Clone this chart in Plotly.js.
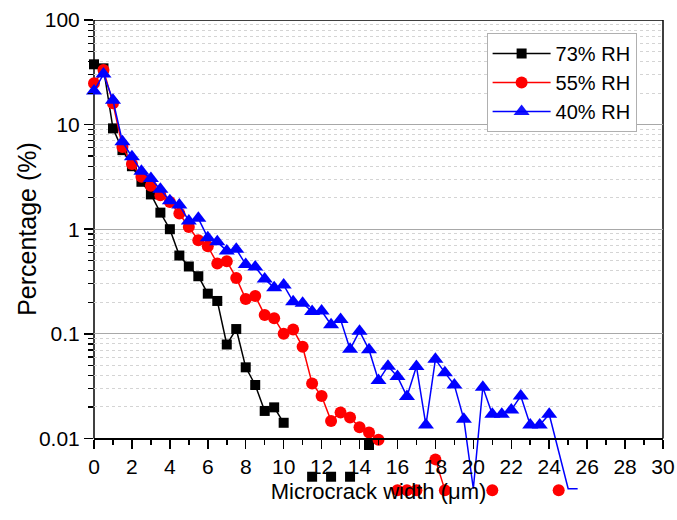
<!DOCTYPE html>
<html><head><meta charset="utf-8">
<script src="https://cdn.plot.ly/plotly-3.0.1.min.js"></script>
<style>html,body{margin:0;padding:0;background:#fff}</style>
</head><body><div id="chart" style="width:677px;height:520px"></div>
<script>
// Microcrack width (µm)
const widths = [0,0.5,1,1.5,2,2.5,3,3.5,4,4.5,5,5.5,6,6.5,7,7.5,8,8.5,9,9.5,10,10.5,11,11.5,12,12.5,13,13.5,14,14.5,15,15.5,16,16.5,17,17.5,18,18.5,19,19.5,20,20.5,21,21.5,22,22.5,23,23.5,24,24.5,25,25.5];
// Percentage (%) per series
const rh73 = [37.7,34.5,9.2,5.7,4.0,2.84,2.15,1.44,1.0,0.56,0.44,0.355,0.242,0.206,0.079,0.111,0.0478,0.0324,0.0183,0.0198,0.0141,null,null,0.0043,null,0.0043,null,0.0043,null,0.00865,null,null,null,null,null,null,null,null,null,null,null,null,null,null,null,null,null,null,null,null,null,null];
const rh55 = [24.8,33.3,16,6.1,4.19,3.17,2.6,2.11,1.82,1.41,1.05,0.785,0.688,0.47,0.494,0.342,0.215,0.23,0.151,0.141,0.1,0.11,0.075,0.0335,0.0254,0.0147,0.0177,0.0158,0.0128,0.0114,0.0097,null,0.0032,0.0032,0.0032,null,0.0063,0.0032,null,null,null,null,0.0032,null,null,null,null,null,null,0.0032,null,null];
const rh40 = [20.9,30.4,17.1,6.86,4.92,3.59,3.05,2.41,1.87,1.70,1.2,1.27,0.83,0.757,0.62,0.644,0.46,0.435,0.335,0.275,0.292,0.203,0.196,0.163,0.165,0.122,0.137,0.071,0.106,0.0705,0.0357,0.049,0.039,0.0252,0.0487,0.0134,0.057,0.0425,0.0324,0.0152,0.0033,0.0308,0.017,0.017,0.0187,0.0254,0.0134,0.0134,0.017,0.0075,0.0033,0.0033];
const seriesNames = ['73% RH','55% RH','40% RH'];
const xTickVals = [0,2,4,6,8,10,12,14,16,18,20,22,24,26,28,30];
const yTickVals = [0.01,0.1,1,10,100];
const yTickText = ['0.01','0.1','1','10','100'];

const FONT = 'Liberation Sans, Arial, sans-serif';
const yMin = -2.589, yMax = 2;
const yBottom = yTickVals[0], yTop = yTickVals[yTickVals.length - 1];
const minorVals = [];
[0.01,0.1,1,10].forEach(d => { for (let k = 2; k <= 9; k++) minorVals.push(+(d*k).toPrecision(3)); });

const traces = [
  {x: widths, y: rh73, name: seriesNames[0], type: 'scatter', mode: 'lines+markers',
   line: {color: '#000000', width: 1.5}, marker: {symbol: 'square', size: 10, color: '#000000'},
   connectgaps: false, cliponaxis: false},
  {x: widths, y: rh55, name: seriesNames[1], type: 'scatter', mode: 'lines+markers',
   line: {color: '#ff0000', width: 1.5}, marker: {symbol: 'circle', size: 12, color: '#ff0000'},
   connectgaps: false, cliponaxis: false},
  {x: widths, y: rh40, name: seriesNames[2], type: 'scatter', mode: 'lines+markers',
   line: {color: '#0000ff', width: 1.5},
   marker: {symbol: 'triangle-up', size: 14, color: '#0000ff', line: {width: 0},
            opacity: rh40.map(v => v >= yBottom ? 1 : 0)},
   connectgaps: false, cliponaxis: false}
];

const layout = {
  width: 677, height: 520,
  margin: {l: 94, r: 14, t: 20, b: 20},
  paper_bgcolor: '#ffffff', plot_bgcolor: '#ffffff',
  font: {family: FONT, size: 21, color: '#000'},
  showlegend: true,
  legend: {x: 0.69, y: 0.973, xanchor: 'left', yanchor: 'top',
    bgcolor: '#ffffff', bordercolor: '#b0b0b0', borderwidth: 1,
    font: {family: FONT, size: 20, color: '#000'}, itemwidth: 58, tracegroupgap: 0,
    entrywidth: 108, entrywidthmode: 'pixels'},
  xaxis: {
    range: [0, 30], tickvals: xTickVals, ticks: 'outside', ticklen: 9, tickwidth: 1.5, tickcolor: '#000',
    showline: true, linecolor: '#000', linewidth: 1.5, showgrid: false, zeroline: false,
    anchor: 'free', position: (-2 - yMin) / (yMax - yMin),
    minor: {dtick: 1, ticks: 'outside', ticklen: 5, tickwidth: 1.5, tickcolor: '#000', showgrid: false},
    tickfont: {family: FONT, size: 21, color: '#000'},
    title: {text: 'Microcrack width (μm)', font: {family: FONT, size: 22, color: '#000'}, standoff: 6},
    automargin: false
  },
  yaxis: {
    type: 'log', range: [yMin, yMax], tickvals: yTickVals, ticktext: yTickText,
    ticks: 'outside', ticklen: 9, tickwidth: 1.5, tickcolor: '#000',
    showline: false, showgrid: true, gridcolor: '#a8a8a8', gridwidth: 1, zeroline: false,
    minor: {tickvals: minorVals, ticks: 'outside', ticklen: 5, tickwidth: 1.2, tickcolor: '#000',
      showgrid: true, gridcolor: '#d4d4d4', griddash: 'dot', gridwidth: 1},
    tickfont: {family: FONT, size: 21, color: '#000'},
    automargin: false
  },
  shapes: [
    {type: 'line', xref: 'paper', yref: 'y', x0: 0, x1: 0, y0: yBottom, y1: yTop, line: {color: '#000', width: 1.5}, layer: 'between'},
    {type: 'line', xref: 'paper', yref: 'y', x0: 1, x1: 1, y0: yBottom, y1: yTop, line: {color: '#000', width: 1.5}, layer: 'between'},
    {type: 'line', xref: 'paper', yref: 'y', x0: 0, x1: 1, y0: yTop, y1: yTop, line: {color: '#000', width: 1.5}, layer: 'between'}
  ],
  annotations: [
    {text: 'Percentage (%)', xref: 'paper', yref: 'y', x: -0.1166, y: 0, textangle: -90,
     xanchor: 'center', yanchor: 'middle', showarrow: false,
     font: {family: FONT, size: 25, color: '#000'}}
  ]
};

Plotly.newPlot('chart', traces, layout, {displayModeBar: false, staticPlot: true});
</script>
</body></html>
